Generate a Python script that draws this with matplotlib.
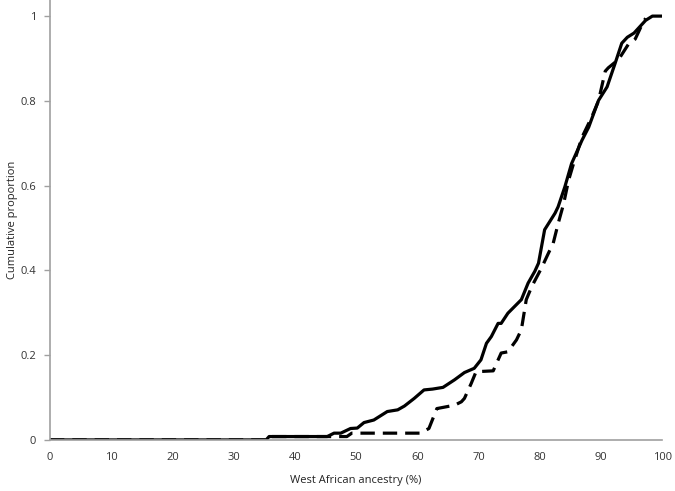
import matplotlib
matplotlib.use("Agg")
import matplotlib.pyplot as plt

# Values
solid_x = [0, 35.3, 35.8, 45.3, 46.4, 47.5, 49.1, 50.2, 51.3, 52.9, 55.1, 56.8, 57.9,
           59.5, 61.1, 62.5, 64.2, 66.1, 67.7, 69.3, 70.4, 71.3, 72.1, 73.2, 73.7,
           74.8, 77.0, 78.1, 79.2, 79.8, 80.8, 82.5, 83.0, 84.1, 85.2, 86.9, 88.0,
           89.6, 91.0, 92.3, 93.4, 94.3, 95.4, 97.3, 98.4, 100]
solid_y = [0, 0, 0.008, 0.008, 0.016, 0.016, 0.027, 0.028, 0.041, 0.047, 0.067, 0.071,
           0.08, 0.098, 0.118, 0.12, 0.124, 0.142, 0.159, 0.169, 0.189, 0.228, 0.244,
           0.275, 0.275, 0.299, 0.331, 0.37, 0.398, 0.417, 0.496, 0.535, 0.55, 0.597,
           0.652, 0.707, 0.738, 0.801, 0.833, 0.888, 0.936, 0.95, 0.96, 0.99, 1.0, 1.0]

dash_x = [0, 35.3, 35.8, 48.5, 49.3, 60.5, 61.9, 63.2, 66.1, 67.2, 67.7, 68.8, 69.6,
          72.4, 73.7, 74.8, 76.2, 77.0, 77.8, 78.7, 80.3, 81.4, 82.2, 83.0, 83.9,
          84.7, 85.5, 86.9, 88.5, 89.6, 90.7, 91.2, 92.9, 94.5, 95.6, 96.7, 97.3]
dash_y = [0, 0, 0.008, 0.008, 0.016, 0.016, 0.027, 0.074, 0.082, 0.09, 0.098, 0.133,
          0.161, 0.163, 0.205, 0.208, 0.236, 0.26, 0.331, 0.362, 0.406, 0.44, 0.464,
          0.51, 0.557, 0.612, 0.651, 0.714, 0.762, 0.80, 0.87, 0.878, 0.898, 0.934,
          0.946, 0.98, 0.995]

x_ticks = list(range(0, 101, 10))
y_ticks = [0, 0.2, 0.4, 0.6, 0.8, 1]
y_labels = ["0", "0.2", "0.4", "0.6", "0.8", "1"]

plt.rcParams['font.family'] = ['Open Sans', 'DejaVu Sans']

fig = plt.figure(figsize=(6.75, 4.91), dpi=100)
ax = fig.add_axes([0.074, 0.104, 0.907, 0.896])

ax.plot(solid_x, solid_y, color='black', lw=2.3, solid_joinstyle='round')
ax.plot(dash_x, dash_y, color='black', lw=2.3, dashes=(4.5, 2.5))

ax.set_xlim(0, 100)
ax.set_ylim(0, 1.038)
ax.set_xticks(x_ticks)
ax.set_yticks(y_ticks)
ax.set_yticklabels(y_labels)

for s in ['top', 'right']:
    ax.spines[s].set_visible(False)
for s in ['left', 'bottom']:
    ax.spines[s].set_color('#a0a0a0')
    ax.spines[s].set_linewidth(1.2)

ax.tick_params(axis='x', length=0, pad=9, labelsize=8, colors='#333333')
ax.tick_params(axis='y', length=4, width=1, color='#a0a0a0', pad=6,
               labelsize=8, labelcolor='#333333')

ax.set_xlabel('West African ancestry (%)', fontsize=8, color='#222222', labelpad=8)
ax.set_ylabel('Cumulative proportion', fontsize=8, color='#222222')
ax.yaxis.set_label_coords(-0.052, 0.5)

fig.savefig('out.png', dpi=100)
